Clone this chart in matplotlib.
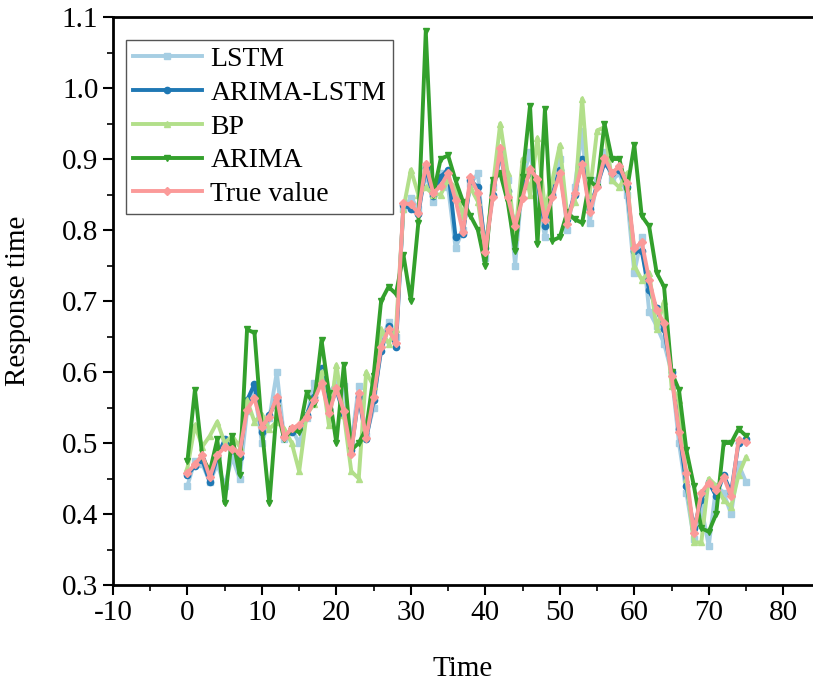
import numpy as np
import matplotlib.pyplot as plt

# time steps 0..75
t = np.arange(76)

true_value = [0.458, 0.470, 0.483, 0.452, 0.483, 0.494, 0.492, 0.486, 0.547, 0.563,
              0.523, 0.537, 0.565, 0.508, 0.521, 0.525, 0.537, 0.560, 0.585, 0.542,
              0.577, 0.545, 0.485, 0.570, 0.507, 0.565, 0.635, 0.660, 0.641, 0.838,
              0.836, 0.824, 0.893, 0.852, 0.862, 0.880, 0.842, 0.797, 0.875, 0.852,
              0.769, 0.847, 0.915, 0.847, 0.805, 0.845, 0.886, 0.872, 0.814, 0.846,
              0.880, 0.808, 0.852, 0.893, 0.826, 0.860, 0.902, 0.880, 0.890, 0.866,
              0.774, 0.783, 0.730, 0.687, 0.669, 0.595, 0.515, 0.458, 0.373, 0.430,
              0.444, 0.434, 0.452, 0.425, 0.504, 0.501]

arima_lstm = [0.455, 0.468, 0.476, 0.445, 0.480, 0.505, 0.490, 0.480, 0.560, 0.583,
              0.515, 0.540, 0.560, 0.510, 0.515, 0.522, 0.540, 0.565, 0.605, 0.548,
              0.575, 0.540, 0.490, 0.565, 0.505, 0.560, 0.630, 0.665, 0.635, 0.835,
              0.830, 0.822, 0.888, 0.848, 0.875, 0.885, 0.790, 0.795, 0.870, 0.860,
              0.775, 0.850, 0.910, 0.855, 0.800, 0.860, 0.880, 0.868, 0.805, 0.850,
              0.885, 0.815, 0.850, 0.900, 0.830, 0.862, 0.895, 0.880, 0.885, 0.860,
              0.770, 0.770, 0.715, 0.690, 0.660, 0.600, 0.520, 0.440, 0.380, 0.420,
              0.445, 0.425, 0.455, 0.430, 0.500, 0.505]

lstm = [0.440, 0.475, 0.470, 0.445, 0.470, 0.440, 0.480, 0.450, 0.545, 0.575,
        0.500, 0.535, 0.600, 0.505, 0.520, 0.500, 0.535, 0.585, 0.590, 0.570,
        0.585, 0.580, 0.500, 0.580, 0.510, 0.550, 0.640, 0.670, 0.650, 0.830,
        0.845, 0.830, 0.880, 0.840, 0.880, 0.860, 0.775, 0.800, 0.865, 0.880,
        0.760, 0.860, 0.900, 0.870, 0.750, 0.870, 0.910, 0.850, 0.790, 0.855,
        0.900, 0.800, 0.860, 0.940, 0.810, 0.870, 0.910, 0.870, 0.880, 0.850,
        0.740, 0.790, 0.685, 0.665, 0.640, 0.600, 0.500, 0.430, 0.365, 0.410,
        0.355, 0.440, 0.430, 0.400, 0.470, 0.445]

bp = [0.465, 0.525, 0.495, 0.510, 0.530, 0.500, 0.510, 0.495, 0.560, 0.530,
      0.540, 0.520, 0.530, 0.520, 0.500, 0.460, 0.540, 0.555, 0.600, 0.525,
      0.610, 0.540, 0.460, 0.450, 0.600, 0.580, 0.660, 0.640, 0.660, 0.830,
      0.885, 0.850, 0.860, 0.850, 0.850, 0.870, 0.860, 0.820, 0.860, 0.840,
      0.770, 0.860, 0.950, 0.880, 0.790, 0.900, 0.850, 0.930, 0.830, 0.870,
      0.920, 0.820, 0.840, 0.985, 0.850, 0.940, 0.945, 0.870, 0.860, 0.880,
      0.750, 0.730, 0.740, 0.660, 0.700, 0.580, 0.560, 0.450, 0.360, 0.360,
      0.450, 0.440, 0.420, 0.410, 0.455, 0.480]

arima = [0.475, 0.575, 0.480, 0.460, 0.505, 0.415, 0.510, 0.455, 0.660, 0.655,
         0.520, 0.415, 0.550, 0.505, 0.520, 0.515, 0.570, 0.555, 0.645, 0.570,
         0.500, 0.610, 0.490, 0.500, 0.520, 0.595, 0.700, 0.720, 0.710, 0.765,
         0.700, 0.810, 1.080, 0.850, 0.900, 0.905, 0.870, 0.840, 0.820, 0.800,
         0.750, 0.870, 0.880, 0.840, 0.770, 0.875, 0.975, 0.780, 0.970, 0.785,
         0.790, 0.825, 0.815, 0.810, 0.870, 0.860, 0.950, 0.900, 0.900, 0.855,
         0.920, 0.820, 0.805, 0.740, 0.720, 0.600, 0.575, 0.490, 0.440, 0.380,
         0.375, 0.400, 0.500, 0.500, 0.520, 0.510]

plt.rcParams['font.family'] = ['Liberation Serif', 'DejaVu Serif']
plt.rcParams['font.size'] = 20
plt.rcParams['axes.unicode_minus'] = False

fig = plt.figure(figsize=(8.13, 6.84), dpi=100)
ax = fig.add_axes([113 / 813, 1 - 585 / 684, 700 / 813, 568 / 684])

ax.plot(t, lstm, color='#a6cee3', lw=2.8, marker='s', ms=4.5, label='LSTM')
ax.plot(t, arima_lstm, color='#1f78b4', lw=2.8, marker='o', ms=4.5, label='ARIMA-LSTM')
ax.plot(t, bp, color='#b2df8a', lw=2.8, marker='^', ms=5, label='BP')
ax.plot(t, arima, color='#33a02c', lw=2.8, marker='v', ms=5, label='ARIMA')
ax.plot(t, true_value, color='#fb9a99', lw=2.8, marker='D', ms=4, label='True value')

ax.set_xlim(-10, 84)
ax.set_ylim(0.3, 1.1)
ax.set_xticks(np.arange(-10, 81, 10))
ax.set_xticks(np.arange(-5, 84, 10), minor=True)
ax.set_yticks(np.arange(0.3, 1.11, 0.1))
ax.set_yticks(np.arange(0.35, 1.1, 0.1), minor=True)
ax.set_yticklabels(['%.1f' % v for v in np.arange(0.3, 1.11, 0.1)])
ax.tick_params(which='major', direction='out', length=7, width=1.5, labelsize=21)
ax.tick_params(which='minor', direction='out', length=4, width=1.2)

for s in ['left', 'bottom', 'top']:
    ax.spines[s].set_linewidth(2)
ax.spines['right'].set_visible(False)

ax.set_xlabel('Time', fontsize=21, labelpad=22)
ax.set_ylabel('Response time', fontsize=21, labelpad=22)

leg = ax.legend(loc='upper left', bbox_to_anchor=(0.01, 0.97), fontsize=20,
                fancybox=False, edgecolor='#555555', handlelength=2.5,
                handletextpad=0.3, labelspacing=0.3, borderpad=0.25,
                borderaxespad=0.2, framealpha=1)
leg.get_frame().set_linewidth(1)

fig.savefig('out.png', dpi=100)
